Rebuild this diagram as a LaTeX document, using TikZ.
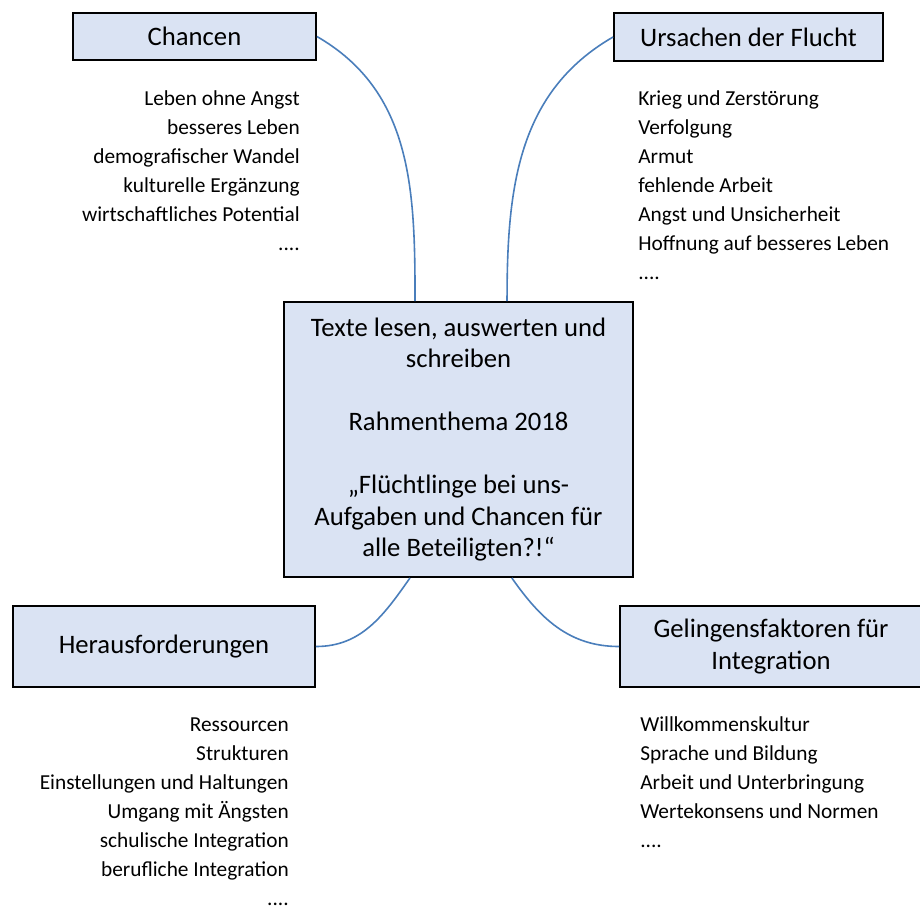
\documentclass[tikz,border=0pt]{standalone}
\usepackage{fontspec}
\setmainfont{Carlito}
\definecolor{boxfill}{HTML}{DAE3F3}
\definecolor{linkblue}{HTML}{4A7EBB}
\newcommand{\etcdots}{....}

\begin{document}
\begin{tikzpicture}[x=0.75pt,y=-0.75pt,
  topic/.style={draw,fill=boxfill,line width=1.4pt,inner sep=0pt,align=center,
    font=\fontsize{20}{23.6}\selectfont},
  item/.style={inner sep=0pt,font=\fontsize{16}{20}\selectfont},
  link/.style={draw=linkblue,line width=1.2pt}]
  \useasboundingbox (0,0) rectangle (920,908);

  \node[topic,minimum width=182.25pt,minimum height=35.25pt] (chancen) at (194.5,36.5) {Chancen};
  \node[topic,minimum width=201.75pt,minimum height=36pt] (ursachen) at (748.5,37) {Ursachen der Flucht};
  \node[topic,minimum width=261.75pt,minimum height=206.25pt] (main) at (458.5,439.5)
    {Texte lesen, auswerten und\\schreiben\\[23.6pt]Rahmenthema 2018\\[23.6pt]%
     „Flüchtlinge bei uns-\\Aufgaben und Chancen für\\alle Beteiligten?!“};
  \node[topic,minimum width=226.5pt,minimum height=60.75pt] (heraus) at (164,646.5) {Herausforderungen};
  \node[topic,minimum width=226.5pt,minimum height=60.75pt] (gelingen) at (771,646.5) {Gelingensfaktoren für\\Integration};

  % connectors
  \draw[link] (chancen.east) to[out=-30,in=90] ([xshift=-32.6pt]main.north);
  \draw[link] (ursachen.west) to[out=-150,in=90] ([xshift=36.4pt]main.north);
  \draw[link] (heraus.east) to[out=0,in=-125] ([xshift=-36.4pt]main.south);
  \draw[link] (gelingen.west) to[out=180,in=-55] ([xshift=40pt]main.south);

  % lists
  \foreach \t [count=\i] in {Leben ohne Angst,besseres Leben,demografischer Wandel,
      kulturelle Ergänzung,wirtschaftliches Potential,\etcdots}
    \node[item,anchor=base east] (chance\i) at (300,{105+29*(\i-1)}) {\t};
  \foreach \t [count=\i] in {Krieg und Zerstörung,Verfolgung,Armut,fehlende Arbeit,
      Angst und Unsicherheit,Hoffnung auf besseres Leben,\etcdots}
    \node[item,anchor=base west] (ursache\i) at (638,{105+29*(\i-1)}) {\t};
  \foreach \t [count=\i] in {Ressourcen,Strukturen,Einstellungen und Haltungen,
      Umgang mit Ängsten,schulische Integration,berufliche Integration,\etcdots}
    \node[item,anchor=base east] (heraus\i) at (289,{731+29*(\i-1)}) {\t};
  \foreach \t [count=\i] in {Willkommenskultur,Sprache und Bildung,Arbeit und Unterbringung,
      Wertekonsens und Normen,\etcdots}
    \node[item,anchor=base west] (gelingen\i) at (640,{731+29*(\i-1)}) {\t};
\end{tikzpicture}
\end{document}
